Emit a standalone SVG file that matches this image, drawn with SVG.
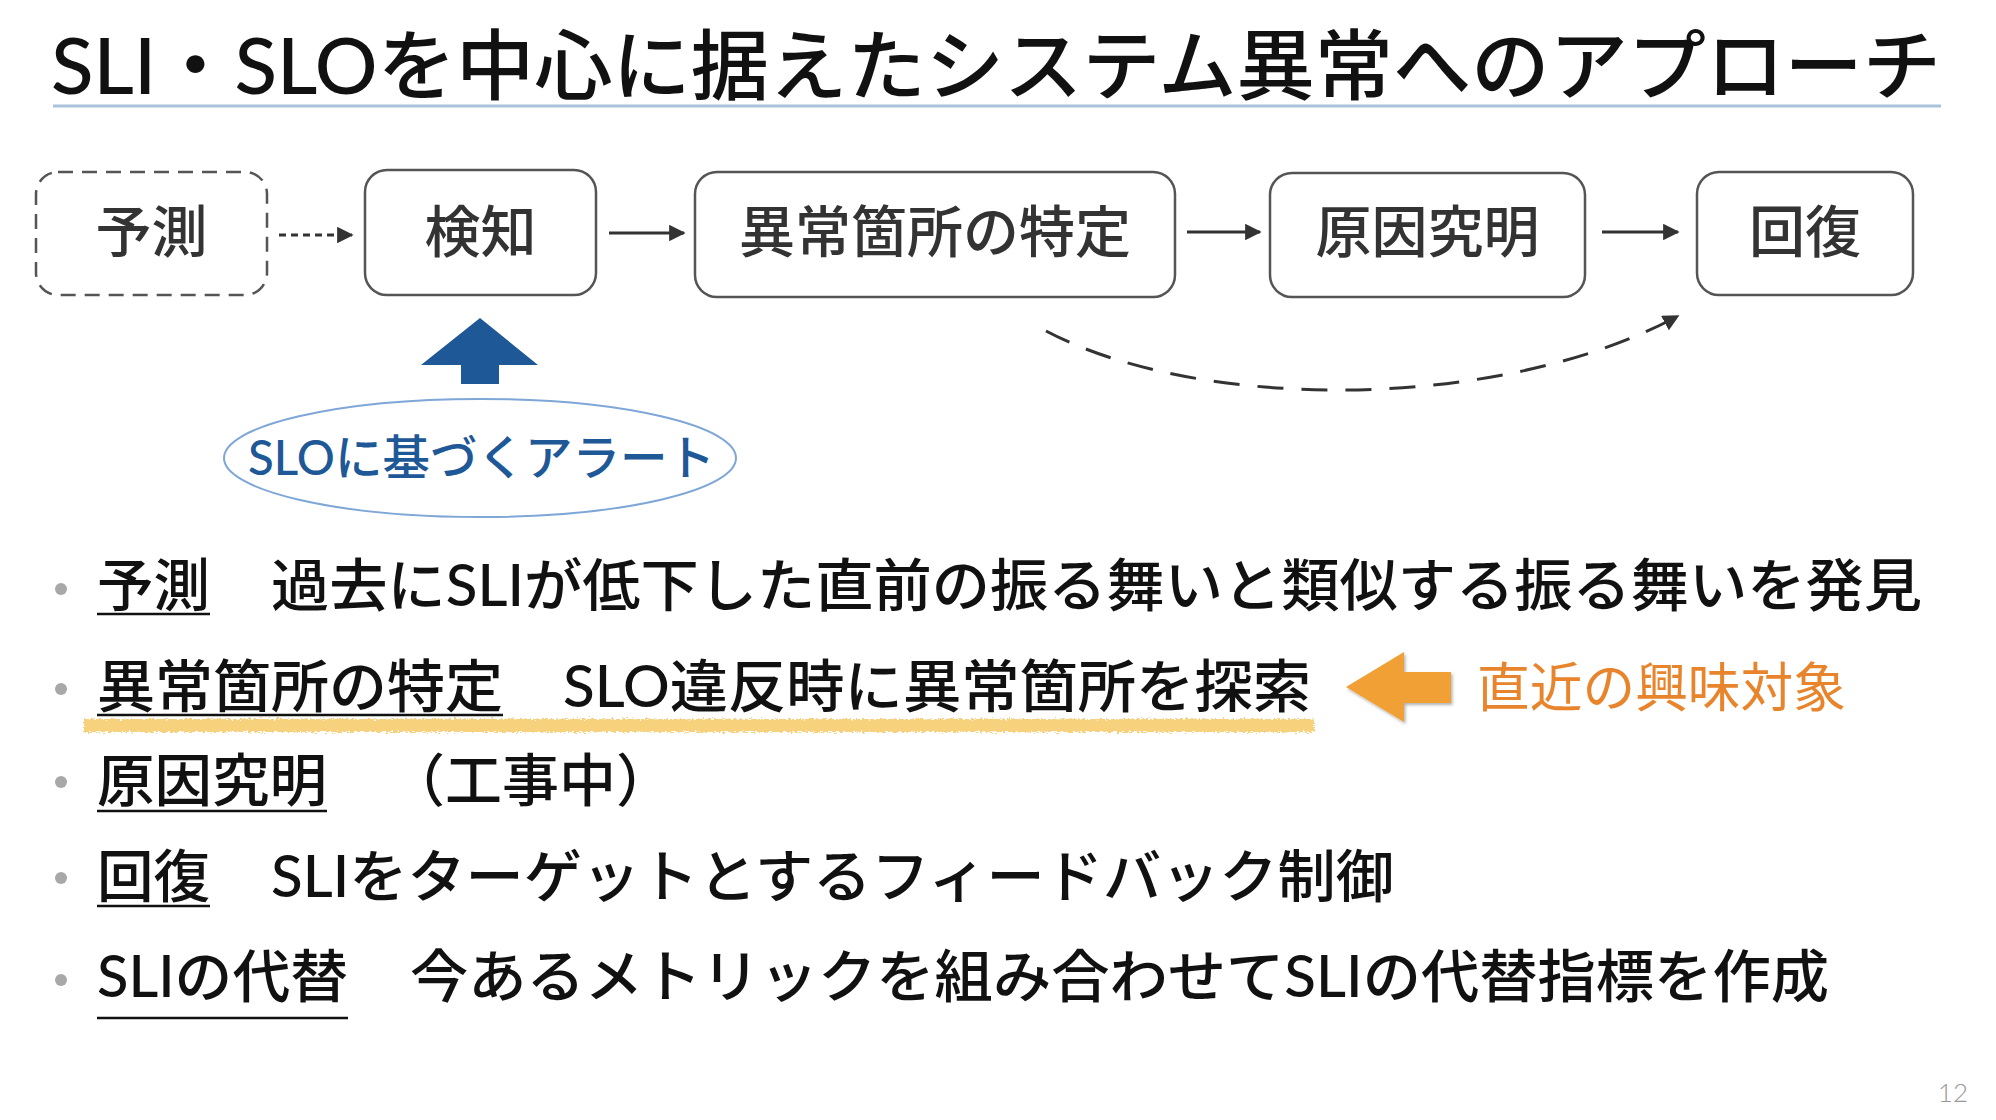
<svg xmlns="http://www.w3.org/2000/svg" width="1996" height="1120" viewBox="0 0 1996 1120">
<defs>
<style>
.t{font-family:Lato,"Noto Sans CJK JP",sans-serif;}
.title{font-size:77px;font-weight:500;fill:#111;}
.box{fill:#fff;stroke:#555;stroke-width:2.5;}
.bt{font-family:"Noto Sans CJK JP",sans-serif;font-size:56px;fill:#333;text-anchor:middle;font-weight:500;}
.conn{stroke:#333;stroke-width:3;fill:none;}
.body{font-size:57px;fill:#111;font-weight:500;}
.ul{stroke:#111;stroke-width:2.5;}
.dot{fill:#a8a8a8;}
</style>
<marker id="ah" viewBox="0 0 10 10" refX="9" refY="5" markerWidth="5.5" markerHeight="5.5" orient="auto" markerUnits="strokeWidth">
<path d="M0,0 L10,5 L0,10 z" fill="#333"/>
</marker>
<filter id="rough" filterUnits="userSpaceOnUse" x="70" y="705" width="1260" height="42">
<feTurbulence type="fractalNoise" baseFrequency="0.35 0.9" numOctaves="2" seed="3" result="n"/>
<feDisplacementMap in="SourceGraphic" in2="n" scale="7" xChannelSelector="R" yChannelSelector="G"/>
</filter>
<filter id="shadow" x="-20%" y="-20%" width="150%" height="150%">
<feDropShadow dx="1.5" dy="2" stdDeviation="1.5" flood-color="#000" flood-opacity="0.3"/>
</filter>
</defs>
<rect width="1996" height="1120" fill="#fff"/>

<g id="title">
<text class="t title" x="51" y="94" textLength="1890" lengthAdjust="spacingAndGlyphs">SLI・SLOを中心に据えたシステム異常へのアプローチ</text>
<line x1="53" y1="106" x2="1941" y2="106" stroke="#a9c3dc" stroke-width="3"/>
</g>

<g id="node-yosoku">
<rect class="box" x="36" y="172" width="231" height="123" rx="22" stroke-dasharray="15 9"/>
<text class="bt" x="151.5" y="252">予測</text>
</g>
<g id="node-kenchi">
<rect class="box" x="365" y="170" width="231" height="125" rx="22"/>
<text class="bt" x="480.5" y="252">検知</text>
</g>
<g id="node-tokutei">
<rect class="box" x="695" y="172" width="480" height="125" rx="22"/>
<text class="bt" x="935" y="252">異常箇所の特定</text>
</g>
<g id="node-genin">
<rect class="box" x="1270" y="173" width="315" height="124" rx="22" stroke="#aaa"/>
<text class="bt" x="1427.5" y="252">原因究明</text>
</g>
<g id="node-kaifuku">
<rect class="box" x="1697" y="172" width="216" height="123" rx="22" stroke="#444"/>
<text class="bt" x="1805" y="252">回復</text>
</g>

<g id="connectors">
<line class="conn" x1="279" y1="235" x2="352" y2="235" stroke-dasharray="7 5" marker-end="url(#ah)"/>
<line class="conn" x1="609" y1="233" x2="684" y2="233" marker-end="url(#ah)"/>
<line class="conn" x1="1187" y1="232" x2="1260" y2="232" marker-end="url(#ah)"/>
<line class="conn" x1="1602" y1="232" x2="1678" y2="232" marker-end="url(#ah)"/>
<path class="conn" d="M1046,331 C1200,412 1500,412 1678,316" stroke-dasharray="26 18" marker-end="url(#ah)"/>
</g>

<g id="node-alert">
<path d="M480,318 L538,365 L499,365 L499,384 L461,384 L461,365 L421,365 Z" fill="#1e5896"/>
<ellipse cx="480" cy="458" rx="256" ry="59" fill="#fff" stroke="#7ea6d6" stroke-width="2"/>
<text class="t" x="248" y="475" font-size="48" font-weight="500" fill="#1e5896" textLength="467" lengthAdjust="spacingAndGlyphs">SLOに基づくアラート</text>
</g>

<g id="bullets">
<circle class="dot" cx="61" cy="589" r="6"/>
<circle class="dot" cx="61" cy="689" r="6"/>
<circle class="dot" cx="61" cy="782" r="6"/>
<circle class="dot" cx="61" cy="878" r="6"/>
<circle class="dot" cx="61" cy="980" r="6"/>

<rect x="84" y="719" width="1230" height="13" fill="#f6c65c" fill-opacity="0.8" filter="url(#rough)"/>

<text class="t body" x="97" y="606" textLength="113" lengthAdjust="spacingAndGlyphs">予測</text>
<line class="ul" x1="97" y1="614" x2="210" y2="614"/>
<text class="t body" x="271" y="606" textLength="1651" lengthAdjust="spacingAndGlyphs">過去にSLIが低下した直前の振る舞いと類似する振る舞いを発見</text>

<text class="t body" x="97" y="707" textLength="406" lengthAdjust="spacingAndGlyphs">異常箇所の特定</text>
<line class="ul" x1="97" y1="715" x2="503" y2="715"/>
<text class="t body" x="563" y="707" textLength="748" lengthAdjust="spacingAndGlyphs">SLO違反時に異常箇所を探索</text>

<text class="t body" x="97" y="801" textLength="230" lengthAdjust="spacingAndGlyphs">原因究明</text>
<line class="ul" x1="97" y1="811" x2="327" y2="811"/>
<text class="t body" x="388" y="801">（工事中）</text>

<text class="t body" x="97" y="897" textLength="113" lengthAdjust="spacingAndGlyphs">回復</text>
<line class="ul" x1="97" y1="906" x2="210" y2="906"/>
<text class="t body" x="271" y="897" textLength="1123" lengthAdjust="spacingAndGlyphs">SLIをターゲットとするフィードバック制御</text>

<text class="t body" x="97" y="997" textLength="251" lengthAdjust="spacingAndGlyphs">SLIの代替</text>
<line class="ul" x1="97" y1="1018" x2="348" y2="1018"/>
<text class="t body" x="410" y="997" textLength="1419" lengthAdjust="spacingAndGlyphs">今あるメトリックを組み合わせてSLIの代替指標を作成</text>
</g>

<g id="node-interest">
<path d="M1346,687 L1404,652 L1404,672 L1451,672 L1451,703 L1404,703 L1404,722 Z" fill="#f0a035" filter="url(#shadow)"/>
<text class="t" x="1477" y="707" font-size="53" fill="#e8852c" textLength="369" lengthAdjust="spacingAndGlyphs">直近の興味対象</text>
</g>

<text class="t" x="1968" y="1102" font-size="26" fill="#999" text-anchor="end" font-weight="300">12</text>
</svg>
